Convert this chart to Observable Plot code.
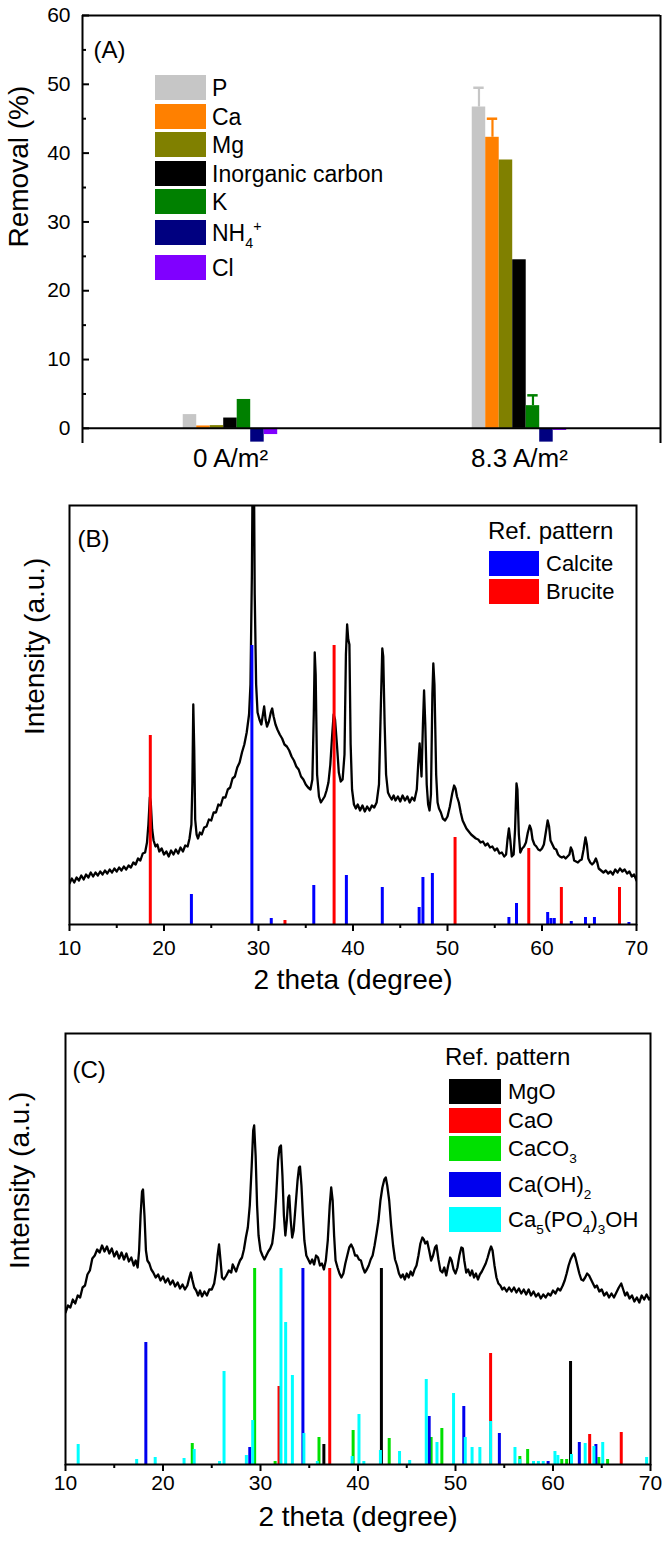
<!DOCTYPE html>
<html><head><meta charset="utf-8">
<script src="https://cdn.jsdelivr.net/npm/d3@7"></script>
<script src="https://cdn.jsdelivr.net/npm/@observablehq/plot@0.6"></script>
<style>
html,body{margin:0;padding:0;background:#fff;}
#root{width:666px;}
#root svg{display:block;}
</style></head><body><div id="root"></div>
<script>
const FONT = "'Liberation Sans', Arial, Helvetica, sans-serif";

// ================= Panel A data =================
const conditions = ["0 A/m²", "8.3 A/m²"];
const species = ["P", "Ca", "Mg", "Inorganic carbon", "K", "NH4+", "Cl"];
const speciesLegend = ["P", "Ca", "Mg", "Inorganic carbon", "K", "NH_4^+", "Cl"];
const speciesColors = ["#c6c6c6", "#ff8000", "#808000", "#000000", "#008000", "#000080", "#8000ff"];
const removalAt0 = [2.0, 0.35, 0.4, 1.5, 4.2, -2.0, -0.9];
const removalAt83 = [46.7, 42.3, 39.0, 24.5, 3.3, -2.0, -0.3];
const errorAt0 = [null, null, null, null, null, null, null];
const errorAt83 = [2.8, 2.7, null, null, 1.5, null, null];
const yTicksA = [0, 10, 20, 30, 40, 50, 60];
const yMinorA = [5, 15, 25, 35, 45, 55];

// ================= Panel B data =================
const curveB = [
[10.0,41],[10.25,46],[10.5,42],[10.75,47],[11.0,44],[11.25,49],[11.5,45],[11.75,50],[12.0,47],[12.25,52],[12.5,48],[12.75,52],
[13.0,49],[13.25,53],[13.5,50],[13.75,54],[14.0,51],[14.25,55],[14.5,52],[14.75,56],[15.0,53],[15.25,57],[15.5,54],[15.75,58],
[16.0,55],[16.25,59],[16.5,57],[16.75,62],[17.0,60],[17.25,66],[17.5,64],[17.75,71],[18.0,72],[18.2,82],[18.35,100],[18.5,127],
[18.6,122],[18.75,95],[18.9,84],[19.1,78],[19.3,80],[19.5,73],[19.75,76],[20.0,70],[20.25,73],[20.5,68],[20.75,74],[21.0,70],
[21.25,75],[21.5,71],[21.75,77],[22.0,73],[22.25,79],[22.5,78],[22.7,86],[22.9,100],[23.0,140],[23.1,220],[23.2,175],[23.3,105],
[23.45,90],[23.6,86],[23.8,92],[24.0,90],[24.25,97],[24.5,98],[24.75,105],[25.0,104],[25.25,112],[25.5,112],[25.75,120],[26.0,119],
[26.25,127],[26.5,127],[26.75,135],[27.0,137],[27.25,146],[27.5,148],[27.75,157],[28.0,162],[28.25,172],[28.5,180],[28.75,192],
[29.0,210],[29.15,240],[29.3,350],[29.4,480],[29.5,480],[29.6,330],[29.75,240],[29.9,212],[30.1,205],[30.3,200],[30.5,212],
[30.6,218],[30.75,205],[30.9,198],[31.1,203],[31.3,212],[31.45,216],[31.6,208],[31.8,200],[32.0,195],[32.25,190],[32.5,186],
[32.75,180],[33.0,178],[33.25,174],[33.5,168],[33.75,164],[34.0,158],[34.25,155],[34.5,148],[34.75,145],[35.0,140],[35.25,137],
[35.5,135],[35.7,145],[35.85,210],[35.95,272],[36.05,250],[36.2,150],[36.4,128],[36.6,122],[36.8,125],[37.0,128],[37.2,134],
[37.4,142],[37.6,160],[37.8,190],[37.95,210],[38.1,205],[38.3,180],[38.5,152],[38.7,143],[38.9,145],[39.1,170],[39.25,270],
[39.38,300],[39.5,285],[39.62,280],[39.75,180],[39.9,135],[40.1,120],[40.3,116],[40.5,120],[40.75,114],[41.0,119],[41.25,113],
[41.5,118],[41.75,114],[42.0,119],[42.25,117],[42.5,122],[42.75,140],[42.95,220],[43.1,276],[43.2,268],[43.35,200],[43.5,150],
[43.7,132],[43.9,128],[44.1,125],[44.3,129],[44.5,124],[44.75,128],[45.0,123],[45.25,129],[45.5,124],[45.75,128],[46.0,122],
[46.25,127],[46.5,124],[46.75,135],[46.9,160],[47.05,181],[47.15,165],[47.25,148],[47.4,200],[47.52,234],[47.65,200],[47.8,140],
[47.95,120],[48.1,114],[48.25,130],[48.4,230],[48.5,261],[48.62,240],[48.8,150],[48.95,122],[49.1,116],[49.3,112],[49.5,106],
[49.75,104],[50.0,108],[50.25,118],[50.5,131],[50.7,139],[50.85,136],[51.0,128],[51.2,122],[51.4,112],[51.6,104],[51.8,100],
[52.0,96],[52.25,93],[52.5,90],[52.75,88],[53.0,86],[53.25,85],[53.5,82],[53.75,83],[54.0,79],[54.25,81],[54.5,77],[54.75,78],
[55.0,74],[55.25,76],[55.5,71],[55.75,72],[56.0,68],[56.2,70],[56.35,85],[56.5,96],[56.65,84],[56.8,68],[57.0,70],[57.15,95],
[57.3,141],[57.4,135],[57.55,90],[57.7,72],[57.9,76],[58.1,78],[58.3,82],[58.5,92],[58.7,99],[58.85,95],[59.0,85],[59.2,80],
[59.4,78],[59.6,75],[59.8,74],[60.0,76],[60.2,80],[60.4,92],[60.6,104],[60.75,98],[60.9,84],[61.1,80],[61.3,76],[61.5,75],
[61.7,70],[61.9,68],[62.1,67],[62.3,68],[62.5,66],[62.7,68],[62.9,70],[63.05,77],[63.2,74],[63.4,64],[63.6,63],[63.8,62],
[64.0,64],[64.2,65],[64.4,75],[64.6,87],[64.75,80],[64.9,66],[65.1,62],[65.3,60],[65.5,62],[65.7,66],[65.85,62],[66.0,56],
[66.25,54],[66.5,52],[66.75,54],[67.0,51],[67.25,53],[67.5,50],[67.75,55],[68.0,52],[68.25,56],[68.5,53],[68.75,55],[69.0,51],
[69.25,53],[69.5,48],[69.75,50],[70.0,44]
];
const calciteTheta = [22.9, 29.3, 31.35, 35.85, 39.3, 43.1, 47.0, 47.4, 48.4, 56.5, 57.3, 60.6, 60.95, 61.3, 63.1, 64.6, 65.55, 69.2];
const calciteInt   = [30, 279, 6, 39, 49, 37, 17, 47, 51, 7, 21, 12, 6, 6, 3, 7, 7, 2];
const bruciteTheta = [18.55, 32.8, 38.0, 50.8, 58.6, 62.05, 68.2];
const bruciteInt   = [189, 4, 279, 87, 76, 37, 37];

// ================= Panel C data =================
const curveC = [
[10.0,152],[10.25,159],[10.5,157],[10.75,165],[11.0,161],[11.25,169],[11.5,167],[11.75,177],[12.0,179],[12.25,190],[12.5,194],
[12.75,206],[13.0,209],[13.25,215],[13.5,212],[13.75,219],[14.0,213],[14.25,218],[14.5,211],[14.75,216],[15.0,208],[15.25,213],
[15.5,206],[15.75,212],[16.0,205],[16.25,211],[16.5,203],[16.75,207],[17.0,199],[17.2,204],[17.4,197],[17.55,214],[17.7,249],
[17.85,273],[17.95,275],[18.1,249],[18.25,214],[18.4,204],[18.6,201],[18.8,195],[19.0,192],[19.25,187],[19.5,190],[19.75,184],
[20.0,188],[20.25,182],[20.5,186],[20.75,180],[21.0,184],[21.25,178],[21.5,182],[21.75,176],[22.0,180],[22.25,175],[22.5,179],
[22.7,187],[22.85,192],[23.0,185],[23.2,177],[23.4,174],[23.6,169],[23.8,174],[24.0,168],[24.25,173],[24.5,169],[24.75,175],
[25.0,175],[25.25,181],[25.45,194],[25.6,209],[25.75,220],[25.9,204],[26.05,187],[26.25,185],[26.5,189],[26.75,194],[27.0,192],
[27.15,200],[27.3,197],[27.5,193],[27.7,199],[27.9,204],[28.1,207],[28.3,215],[28.5,227],[28.7,237],[28.9,259],[29.1,299],
[29.25,334],[29.35,339],[29.5,309],[29.65,259],[29.8,229],[30.0,214],[30.2,209],[30.4,205],[30.6,209],[30.8,213],[31.0,216],
[31.2,221],[31.4,237],[31.6,267],[31.8,304],[31.95,317],[32.1,319],[32.25,289],[32.4,249],[32.55,229],[32.7,244],[32.85,267],
[32.95,269],[33.1,244],[33.25,227],[33.4,234],[33.6,259],[33.8,284],[33.95,297],[34.05,298],[34.2,279],[34.35,249],[34.5,224],
[34.7,209],[34.9,205],[35.1,201],[35.3,205],[35.5,200],[35.7,209],[35.9,207],[36.1,199],[36.3,201],[36.5,195],[36.7,204],
[36.9,224],[37.1,259],[37.25,277],[37.4,264],[37.55,229],[37.7,204],[37.9,197],[38.1,191],[38.3,187],[38.5,191],[38.7,201],
[38.9,209],[39.1,217],[39.3,220],[39.5,216],[39.7,209],[39.9,209],[40.1,205],[40.3,204],[40.5,197],[40.7,192],[40.9,195],
[41.1,199],[41.3,205],[41.5,209],[41.7,219],[41.9,231],[42.1,244],[42.3,264],[42.5,277],[42.7,285],[42.85,287],[43.0,279],
[43.2,264],[43.4,239],[43.6,219],[43.8,205],[44.0,199],[44.2,191],[44.4,187],[44.6,190],[44.8,185],[45.0,191],[45.2,187],
[45.4,193],[45.6,189],[45.8,195],[46.0,199],[46.2,209],[46.4,221],[46.6,227],[46.75,225],[46.9,221],[47.1,223],[47.3,214],
[47.5,204],[47.7,209],[47.9,217],[48.05,219],[48.25,205],[48.45,194],[48.65,192],[48.85,197],[49.05,189],[49.25,199],[49.45,207],
[49.6,204],[49.8,195],[50.0,191],[50.2,197],[50.4,209],[50.6,217],[50.75,216],[50.9,204],[51.1,192],[51.3,195],[51.5,189],
[51.7,194],[51.9,187],[52.1,191],[52.3,185],[52.5,190],[52.7,193],[52.9,197],[53.1,201],[53.3,207],[53.5,214],[53.65,218],
[53.8,214],[54.0,199],[54.2,187],[54.4,181],[54.6,179],[54.8,175],[55.0,177],[55.25,173],[55.5,177],[55.75,173],[56.0,177],
[56.25,172],[56.5,176],[56.75,171],[57.0,175],[57.25,170],[57.5,175],[57.75,169],[58.0,173],[58.25,168],[58.5,171],[58.75,166],
[59.0,170],[59.25,167],[59.5,171],[59.75,169],[60.0,174],[60.25,171],[60.5,176],[60.75,174],[61.0,179],[61.2,184],[61.4,191],
[61.6,199],[61.8,205],[62.0,209],[62.15,211],[62.3,207],[62.5,199],[62.7,191],[62.9,185],[63.1,184],[63.3,187],[63.5,191],
[63.7,189],[63.9,185],[64.1,181],[64.3,177],[64.5,179],[64.75,173],[65.0,175],[65.25,169],[65.5,172],[65.75,167],[66.0,171],
[66.25,167],[66.5,172],[66.75,177],[67.0,181],[67.2,175],[67.4,169],[67.6,172],[67.85,166],[68.1,169],[68.35,163],[68.6,167],
[68.85,162],[69.1,169],[69.35,165],[69.6,170],[69.85,165],[70.0,167]
];
const mgoTheta = [36.5, 42.4, 61.8];
const mgoInt   = [20, 196, 103];
const caoTheta = [31.9, 37.1, 53.6, 63.76, 67.0];
const caoInt   = [78, 196, 111, 30, 32];
const caco3Theta = [23.0, 29.4, 31.5, 36.0, 39.5, 43.2, 47.5, 48.6, 56.6, 57.4, 60.9, 61.4, 64.7, 65.6];
const caco3Int   = [21, 196, 3, 27, 34, 26, 27, 36, 8, 15, 5, 5, 7, 5];
const caoh2Theta = [18.24, 28.9, 34.35, 47.3, 50.85, 54.5, 59.5, 62.7, 64.4];
const caoh2Int   = [122, 17, 196, 48, 58, 31, 3, 22, 20];
const hapTheta = [11.3, 17.3, 19.2, 22.16, 23.2, 25.8, 26.26, 28.55, 29.2, 32.1, 32.58, 33.27, 34.45, 35.83, 39.4, 40.1, 40.6,
                  42.3, 44.26, 45.3, 47.0, 48.1, 49.8, 51.0, 51.7, 52.5, 53.6, 56.1, 56.6, 58.0, 58.5, 59.0, 60.2, 60.5, 61.9,
                  63.3, 64.2, 65.1, 69.6];
const hapInt   = [20, 5, 7, 6, 15, 3, 93, 9, 44, 196, 142, 89, 31, 3, 8, 50, 3,
                  14, 13, 4, 85, 22, 71, 27, 17, 17, 43, 17, 5, 3, 3, 3, 13, 9, 10,
                  21, 18, 22, 7];

const xTicksMajor = [10, 20, 30, 40, 50, 60, 70];
const xTicksMinor = [15, 25, 35, 45, 55, 65];

// ================= helpers =================
const sticks = (theta, inten) => theta.map((t, i) => ({theta: t, int: inten[i]}));

function rich(textSel, str, fs) {
  const parts = [];
  for (let i = 0; i < str.length; i++) {
    const c = str[i];
    if ((c === "_" || c === "^") && i + 1 < str.length) { parts.push({t: str[i + 1], k: c}); i++; }
    else if (parts.length && parts[parts.length - 1].k === "") parts[parts.length - 1].t += c;
    else parts.push({t: c, k: ""});
  }
  let cur = 0;
  for (const p of parts) {
    const target = p.k === "_" ? 0.32 * fs : p.k === "^" ? -0.42 * fs : 0;
    textSel.append("tspan").attr("dy", target - cur).attr("font-size", p.k ? 0.62 * fs : fs).text(p.t);
    cur = target;
  }
}

function legend(svg, {title, titleX, titleY, titleFs, labels, colors, x, w, h, tops, labelX, fs}) {
  const g = d3.select(svg).append("g").attr("font-family", FONT).attr("fill", "#000")
    .attr("text-anchor", "start").style("text-anchor", "start");
  if (title) g.append("text").attr("x", titleX).attr("y", titleY + 0.36 * titleFs).attr("font-size", titleFs)
    .attr("text-anchor", "start").text(title);
  labels.forEach((lab, i) => {
    g.append("rect").attr("x", x).attr("y", tops[i]).attr("width", w).attr("height", h).attr("fill", colors[i]);
    const t = g.append("text").attr("x", labelX).attr("y", tops[i] + h / 2 + 0.36 * fs)
      .attr("font-size", fs).attr("text-anchor", "start");
    rich(t, lab, fs);
  });
}

const style = {fontFamily: FONT, fontSize: "21px", color: "#000", background: "#fff", overflow: "visible"};
const root = document.getElementById("root");

// ================= Panel A =================
const rowsA = conditions.flatMap((c, g) => species.map((s, i) => ({
  g, i, species: s,
  value: [removalAt0, removalAt83][g][i],
  err: [errorAt0, errorAt83][g][i]
})));
const errRowsA = rowsA.filter(d => d.err != null);
const bw = 0.0467, capHalf = 0.018;
const xDomA = [-0.512, 1.488];
const center = d => d.g + (d.i - 3) * bw;

const plotA = Plot.plot({
  width: 666, height: 480, marginTop: 15, marginBottom: 37, marginLeft: 82, marginRight: 6,
  style,
  x: {domain: xDomA, axis: null},
  y: {domain: [-2.2, 60], axis: null},
  color: {domain: species, range: speciesColors},
  marks: [
    Plot.rect(rowsA, {x1: d => center(d) - bw / 2, x2: d => center(d) + bw / 2, y1: 0, y2: "value", fill: "species"}),
    Plot.ruleX(errRowsA, {x: center, y1: "value", y2: d => d.value + d.err, stroke: "species", strokeWidth: 2.2}),
    Plot.ruleY(errRowsA, {y: d => d.value + d.err, x1: d => center(d) - capHalf, x2: d => center(d) + capHalf, stroke: "species", strokeWidth: 2.5}),
    Plot.ruleY([0], {strokeWidth: 2}),
    Plot.ruleY([60], {strokeWidth: 2}),
    Plot.ruleX(xDomA, {strokeWidth: 2}),
    Plot.axisY({ticks: yTicksA, tickSize: 7, dx: 7, tickFormat: () => "", strokeWidth: 2, label: null}),
    Plot.axisY({ticks: yMinorA, tickSize: 4, dx: 4, tickFormat: () => "", strokeWidth: 2, label: null}),
    Plot.axisY({ticks: yTicksA, tickSize: 0, tickPadding: 12, fontSize: 21, label: null}),
    Plot.axisX({ticks: [0, 1], tickFormat: i => conditions[i], tickSize: 0, tickPadding: 5, fontSize: 26, label: null}),
    Plot.text(["Removal (%)"], {frameAnchor: "left", dx: -63, dy: 18, rotate: -90, fontSize: 28}),
    Plot.text(["(A)"], {frameAnchor: "top-left", dx: 11, dy: 25, textAnchor: "start", fontSize: 24})
  ]
});
legend(plotA, {labels: speciesLegend, colors: speciesColors, x: 155, w: 51, h: 25,
  tops: [75, 104, 132, 161, 189, 220, 255], labelX: 212, fs: 23});
root.appendChild(plotA);

// ================= Panel B =================
const plotB = Plot.plot({
  width: 666, height: 520, marginTop: 25, marginBottom: 76, marginLeft: 69, marginRight: 30,
  style,
  x: {domain: [10, 70], axis: null},
  y: {domain: [0, 419], axis: null},
  marks: [
    Plot.line(curveB, {x: d => d[0], y: d => d[1], stroke: "#000", strokeWidth: 2.3, clip: true}),
    Plot.ruleX(sticks(calciteTheta, calciteInt), {x: "theta", y1: 0, y2: "int", stroke: "#0000ff", strokeWidth: 3}),
    Plot.ruleX(sticks(bruciteTheta, bruciteInt), {x: "theta", y1: 0, y2: "int", stroke: "#ff0000", strokeWidth: 3}),
    Plot.frame({strokeWidth: 2}),
    Plot.axisX({ticks: xTicksMajor, tickSize: 7, tickFormat: () => "", strokeWidth: 2, label: null}),
    Plot.axisX({ticks: xTicksMinor, tickSize: 4, tickFormat: () => "", strokeWidth: 2, label: null}),
    Plot.axisX({ticks: xTicksMajor, tickSize: 0, tickPadding: 16, fontSize: 21, label: null}),
    Plot.text(["2 theta (degree)"], {frameAnchor: "bottom", dy: 64, fontSize: 28}),
    Plot.text(["Intensity (a.u.)"], {frameAnchor: "left", dx: -34, dy: 20, rotate: -90, fontSize: 28}),
    Plot.text(["(B)"], {frameAnchor: "top-left", dx: 8, dy: 24, textAnchor: "start", fontSize: 24})
  ]
});
legend(plotB, {title: "Ref. pattern", titleX: 488, titleY: 50, titleFs: 24, labels: ["Calcite", "Brucite"],
  colors: ["#0000ff", "#ff0000"], x: 489, w: 50, h: 25, tops: [71, 99], labelX: 546, fs: 22});
root.appendChild(plotB);

// ================= Panel C =================
const plotC = Plot.plot({
  width: 666, height: 544, marginTop: 33, marginBottom: 80, marginLeft: 65, marginRight: 16,
  style,
  x: {domain: [10, 70], axis: null},
  y: {domain: [0, 431], axis: null},
  marks: [
    Plot.ruleX(sticks(mgoTheta, mgoInt), {x: "theta", y1: 0, y2: "int", stroke: "#000000", strokeWidth: 3}),
    Plot.ruleX(sticks(caoTheta, caoInt), {x: "theta", y1: 0, y2: "int", stroke: "#ff0000", strokeWidth: 3}),
    Plot.ruleX(sticks(caco3Theta, caco3Int), {x: "theta", y1: 0, y2: "int", stroke: "#00e000", strokeWidth: 3}),
    Plot.ruleX(sticks(caoh2Theta, caoh2Int), {x: "theta", y1: 0, y2: "int", stroke: "#0000ee", strokeWidth: 3}),
    Plot.ruleX(sticks(hapTheta, hapInt), {x: "theta", y1: 0, y2: "int", stroke: "#00ffff", strokeWidth: 3}),
    Plot.line(curveC, {x: d => d[0], y: d => d[1], stroke: "#000", strokeWidth: 2.3, clip: true}),
    Plot.frame({strokeWidth: 2}),
    Plot.axisX({ticks: xTicksMajor, tickSize: 7, tickFormat: () => "", strokeWidth: 2, label: null}),
    Plot.axisX({ticks: xTicksMinor, tickSize: 4, tickFormat: () => "", strokeWidth: 2, label: null}),
    Plot.axisX({ticks: xTicksMajor, tickSize: 0, tickPadding: 11, fontSize: 21, label: null}),
    Plot.text(["2 theta (degree)"], {frameAnchor: "bottom", dy: 61, fontSize: 28}),
    Plot.text(["Intensity (a.u.)"], {frameAnchor: "left", dx: -45, dy: 20, rotate: -90, fontSize: 28}),
    Plot.text(["(C)"], {frameAnchor: "top-left", dx: 7, dy: 27, textAnchor: "start", fontSize: 24})
  ]
});
legend(plotC, {title: "Ref. pattern", titleX: 445, titleY: 56, titleFs: 24,
  labels: ["MgO", "CaO", "CaCO_3", "Ca(OH)_2", "Ca_5(PO_4)_3OH"],
  colors: ["#000000", "#ff0000", "#00e000", "#0000ee", "#00ffff"],
  x: 449, w: 52, h: 25, tops: [79, 108, 136, 172, 207], labelX: 508, fs: 22});
root.appendChild(plotC);
</script>
</body></html>
